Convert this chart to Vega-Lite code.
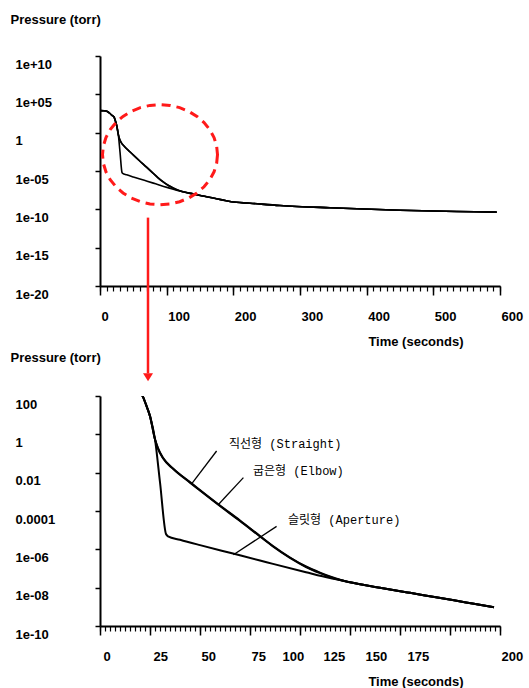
{
  "$schema": "https://vega.github.io/schema/vega-lite/v6.json",
  "padding": {"left": 10, "top": 13, "right": 5, "bottom": 0},
  "bounds": "flush",
  "spacing": 110,
  "config": {
    "view": {"stroke": null},
    "axis": {
      "grid": false,
      "domainColor": "black",
      "domainWidth": 2,
      "tickColor": "black",
      "tickWidth": 1.5,
      "labelFont": "Liberation Sans",
      "labelFontWeight": "bold",
      "labelFontSize": 13,
      "labelColor": "black",
      "titleFont": "Liberation Sans",
      "titleFontWeight": "bold",
      "titleFontSize": 13,
      "titleColor": "black"
    }
  },
  "datasets": {
    "curves": [
      {"s": "Straight", "t": 0, "p": 760}, {"s": "Straight", "t": 6, "p": 708}, {"s": "Straight", "t": 11, "p": 562}, {"s": "Straight", "t": 15, "p": 316}, {"s": "Straight", "t": 18, "p": 178}, {"s": "Straight", "t": 21, "p": 112}, {"s": "Straight", "t": 23, "p": 35.5}, {"s": "Straight", "t": 25, "p": 8.9}, {"s": "Straight", "t": 27.5, "p": 0.55},
      {"s": "Straight", "t": 29, "p": 0.178}, {"s": "Straight", "t": 31.5, "p": 0.0562}, {"s": "Straight", "t": 36.5, "p": 0.01585}, {"s": "Straight", "t": 45, "p": 0.00302}, {"s": "Straight", "t": 50, "p": 0.001175}, {"s": "Straight", "t": 59, "p": 2.19e-4}, {"s": "Straight", "t": 70, "p": 3.02e-5}, {"s": "Straight", "t": 80, "p": 4.68e-6}, {"s": "Straight", "t": 86.5, "p": 1.41e-6}, {"s": "Straight", "t": 95, "p": 3.55e-7}, {"s": "Straight", "t": 103, "p": 1.2e-7}, {"s": "Straight", "t": 110, "p": 5.75e-8}, {"s": "Straight", "t": 115, "p": 3.63e-8}, {"s": "Straight", "t": 120, "p": 2.51e-8},
      {"s": "Straight", "t": 125, "p": 1.91e-8}, {"s": "Straight", "t": 140, "p": 1e-8}, {"s": "Straight", "t": 155, "p": 5.37e-9}, {"s": "Straight", "t": 168, "p": 3.16e-9}, {"s": "Straight", "t": 183, "p": 1.7e-9}, {"s": "Straight", "t": 197, "p": 9.55e-10}, {"s": "Straight", "t": 225, "p": 6.31e-10}, {"s": "Straight", "t": 270, "p": 3.16e-10}, {"s": "Straight", "t": 345, "p": 1.585e-10}, {"s": "Straight", "t": 375, "p": 1.26e-10}, {"s": "Straight", "t": 450, "p": 7.59e-11}, {"s": "Straight", "t": 535, "p": 5.25e-11}, {"s": "Straight", "t": 595, "p": 4.37e-11},
      {"s": "Elbow", "t": 0, "p": 760}, {"s": "Elbow", "t": 6, "p": 708}, {"s": "Elbow", "t": 11, "p": 562}, {"s": "Elbow", "t": 15, "p": 316}, {"s": "Elbow", "t": 18, "p": 178}, {"s": "Elbow", "t": 21, "p": 112}, {"s": "Elbow", "t": 23, "p": 35.5}, {"s": "Elbow", "t": 25, "p": 8.9}, {"s": "Elbow", "t": 27.5, "p": 0.55},
      {"s": "Elbow", "t": 29, "p": 0.189}, {"s": "Elbow", "t": 31.5, "p": 0.0596}, {"s": "Elbow", "t": 36.5, "p": 0.0168}, {"s": "Elbow", "t": 45, "p": 0.0032}, {"s": "Elbow", "t": 50, "p": 0.001245}, {"s": "Elbow", "t": 59, "p": 2.32e-4}, {"s": "Elbow", "t": 70, "p": 3.2e-5}, {"s": "Elbow", "t": 80, "p": 4.96e-6}, {"s": "Elbow", "t": 86.5, "p": 1.49e-6}, {"s": "Elbow", "t": 95, "p": 3.76e-7}, {"s": "Elbow", "t": 103, "p": 1.27e-7}, {"s": "Elbow", "t": 110, "p": 6.1e-8}, {"s": "Elbow", "t": 115, "p": 3.85e-8}, {"s": "Elbow", "t": 120, "p": 2.6e-8},
      {"s": "Elbow", "t": 125, "p": 1.91e-8}, {"s": "Elbow", "t": 140, "p": 1e-8}, {"s": "Elbow", "t": 155, "p": 5.37e-9}, {"s": "Elbow", "t": 168, "p": 3.16e-9}, {"s": "Elbow", "t": 183, "p": 1.7e-9}, {"s": "Elbow", "t": 197, "p": 9.55e-10}, {"s": "Elbow", "t": 225, "p": 6.31e-10}, {"s": "Elbow", "t": 270, "p": 3.16e-10}, {"s": "Elbow", "t": 345, "p": 1.585e-10}, {"s": "Elbow", "t": 375, "p": 1.26e-10}, {"s": "Elbow", "t": 450, "p": 7.59e-11}, {"s": "Elbow", "t": 535, "p": 5.25e-11}, {"s": "Elbow", "t": 595, "p": 4.37e-11},
      {"s": "Aperture", "t": 0, "p": 760}, {"s": "Aperture", "t": 6, "p": 708}, {"s": "Aperture", "t": 11, "p": 562}, {"s": "Aperture", "t": 15, "p": 316}, {"s": "Aperture", "t": 18, "p": 178}, {"s": "Aperture", "t": 21, "p": 112}, {"s": "Aperture", "t": 23, "p": 35.5}, {"s": "Aperture", "t": 25, "p": 8.9}, {"s": "Aperture", "t": 27.5, "p": 0.55},
      {"s": "Aperture", "t": 30, "p": 3.16e-3}, {"s": "Aperture", "t": 33, "p": 6.31e-6}, {"s": "Aperture", "t": 34, "p": 4.79e-6}, {"s": "Aperture", "t": 40, "p": 3.16e-6}, {"s": "Aperture", "t": 50, "p": 1.66e-6}, {"s": "Aperture", "t": 66.5, "p": 6.03e-7}, {"s": "Aperture", "t": 80, "p": 2.63e-7}, {"s": "Aperture", "t": 86.5, "p": 1.74e-7}, {"s": "Aperture", "t": 103, "p": 6.31e-8}, {"s": "Aperture", "t": 115, "p": 3.16e-8}, {"s": "Aperture", "t": 120, "p": 2.51e-8},
      {"s": "Aperture", "t": 125, "p": 1.91e-8}, {"s": "Aperture", "t": 140, "p": 1e-8}, {"s": "Aperture", "t": 155, "p": 5.37e-9}, {"s": "Aperture", "t": 168, "p": 3.16e-9}, {"s": "Aperture", "t": 183, "p": 1.7e-9}, {"s": "Aperture", "t": 197, "p": 9.55e-10}, {"s": "Aperture", "t": 225, "p": 6.31e-10}, {"s": "Aperture", "t": 270, "p": 3.16e-10}, {"s": "Aperture", "t": 345, "p": 1.585e-10}, {"s": "Aperture", "t": 375, "p": 1.26e-10}, {"s": "Aperture", "t": 450, "p": 7.59e-11}, {"s": "Aperture", "t": 535, "p": 5.25e-11}, {"s": "Aperture", "t": 595, "p": 4.37e-11}
    ]
  },
  "vconcat": [
    {
      "width": 400,
      "height": 230,
      "resolve": {"axis": {"x": "independent", "y": "independent"}},
      "layer": [
        {
          "data": {"name": "curves"},
          "mark": {"type": "line", "color": "black", "strokeWidth": 1.6, "interpolate": "monotone"},
          "encoding": {
            "x": {
              "field": "t", "type": "quantitative", "scale": {"domain": [0, 600]},
              "axis": {"values": [0, 100, 200, 300, 400, 500, 600], "tickSize": 9, "labelAlign": "left", "labelOffset": 1, "labelBaseline": "middle", "labelPadding": 21, "labelFlush": false, "labelOverlap": false, "title": "Time (seconds)", "titleAlign": "right", "titleX": 363, "titleY": 55, "titleBaseline": "middle"}
            },
            "y": {
              "field": "p", "type": "quantitative", "scale": {"type": "log", "domain": [1e-20, 1e10]},
              "axis": {"orient": "left", "values": [1e-20, 1e-15, 1e-10, 1e-5, 1, 1e5, 1e10], "labelExpr": "['1e-20','1e-15','1e-10','1e-05','1','1e+05','1e+10'][round(log(datum.value)/LN10/5)+4]", "tickSize": 5, "labelAlign": "left", "labelPadding": 80, "labelOffset": 8, "labelOverlap": false, "title": "Pressure (torr)", "titleAngle": 0, "titleAlign": "left", "titleBaseline": "middle", "titleX": -90, "titleY": -37}
            },
            "detail": {"field": "s"}
          }
        },
        {
          "data": {"values": [{"t": 90, "p": 0.00135}]},
          "mark": {"type": "point", "shape": "M1,0L0.985,0.151L0.94,0.298L0.866,0.435L0.766,0.559L0.643,0.666L0.5,0.753L0.342,0.818L0.174,0.857L0,0.87L-0.174,0.857L-0.342,0.818L-0.5,0.753L-0.643,0.666L-0.766,0.559L-0.866,0.435L-0.94,0.298L-0.985,0.151L-1,0L-0.985,-0.151L-0.94,-0.298L-0.866,-0.435L-0.766,-0.559L-0.643,-0.666L-0.5,-0.753L-0.342,-0.818L-0.174,-0.857L0,-0.87L0.174,-0.857L0.342,-0.818L0.5,-0.753L0.643,-0.666L0.766,-0.559L0.866,-0.435L0.94,-0.298L0.985,-0.151Z", "size": 13225, "filled": false, "stroke": "#ff1a1a", "strokeWidth": 3, "strokeDash": [9, 6], "opacity": 1},
          "encoding": {
            "x": {
              "field": "t", "type": "quantitative", "scale": {"domain": [0, 600]},
              "axis": {"orient": "bottom", "values": [0,10,20,30,40,50,60,70,80,90,100,110,120,130,140,150,160,170,180,190,200,210,220,230,240,250,260,270,280,290,300,310,320,330,340,350,360,370,380,390,400,410,420,430,440,450,460,470,480,490,500,510,520,530,540,550,560,570,580,590,600], "labels": false, "domain": false, "tickSize": 5, "tickWidth": 1.2, "title": null}
            },
            "y": {"field": "p", "type": "quantitative", "scale": {"type": "log", "domain": [1e-20, 1e10]}, "axis": null}
          }
        },
        {
          "data": {"values": [{"t": 72, "p": 8.3e-12, "p2": 4e-32}]},
          "mark": {"type": "rule", "color": "#ff1a1a", "strokeWidth": 2.5},
          "encoding": {
            "x": {"field": "t", "type": "quantitative", "scale": {"domain": [0, 600]}, "axis": null},
            "y": {"field": "p", "type": "quantitative", "scale": {"type": "log", "domain": [1e-20, 1e10]}, "axis": null},
            "y2": {"field": "p2"}
          }
        },
        {
          "data": {"values": [{"t": 72, "p": 1.26e-32}]},
          "mark": {"type": "point", "shape": "M-1,-0.8L1,-0.8L0,0.8Z", "size": 100, "filled": true, "color": "#ff1a1a", "opacity": 1},
          "encoding": {
            "x": {"field": "t", "type": "quantitative", "scale": {"domain": [0, 600]}, "axis": null},
            "y": {"field": "p", "type": "quantitative", "scale": {"type": "log", "domain": [1e-20, 1e10]}, "axis": null}
          }
        }
      ]
    },
    {
      "width": 400,
      "height": 230,
      "resolve": {"axis": {"x": "independent", "y": "independent"}},
      "layer": [
        {
          "data": {"name": "curves"},
          "transform": [{"filter": {"field": "t", "lte": 198}}],
          "mark": {"type": "line", "color": "black", "strokeWidth": 2, "interpolate": "monotone", "clip": true},
          "encoding": {
            "x": {
              "field": "t", "type": "quantitative", "scale": {"domain": [0, 200]},
              "axis": {"values": [0, 25, 50, 75, 100, 125, 150, 175, 200], "tickSize": 9, "labelAlign": "left", "labelBaseline": "middle", "labelPadding": 21, "labelFlush": false, "labelOverlap": false, "title": "Time (seconds)", "titleAlign": "right", "titleX": 363, "titleY": 55, "titleBaseline": "middle",
                "encoding": {"labels": {"dx": {"value": {"expr": "datum.value==100?-18:datum.value==125?-27:datum.value==150?-35:datum.value==175?-43:datum.value<=25?3:1"}}}}}
            },
            "y": {
              "field": "p", "type": "quantitative", "scale": {"type": "log", "domain": [1e-10, 100]},
              "axis": {"orient": "left", "values": [1e-10, 1e-8, 1e-6, 1e-4, 0.01, 1, 100], "labelExpr": "['1e-10','1e-08','1e-06','0.0001','0.01','1','100'][round(log(datum.value)/LN10/2)+5]", "tickSize": 5, "labelAlign": "left", "labelPadding": 80, "labelOffset": 8, "labelOverlap": false, "title": "Pressure (torr)", "titleAngle": 0, "titleAlign": "left", "titleBaseline": "middle", "titleX": -90, "titleY": -39}
            },
            "detail": {"field": "s"}
          }
        },
        {
          "data": {"values": [
            {"t": 46, "p": 2.75e-3, "t2": 58.3, "p2": 0.135},
            {"t": 59.2, "p": 2.19e-4, "t2": 71.7, "p2": 5.5e-3},
            {"t": 66.7, "p": 5.25e-7, "t2": 88.3, "p2": 1.58e-5}
          ]},
          "mark": {"type": "rule", "color": "black", "strokeWidth": 1.3},
          "encoding": {
            "x": {
              "field": "t", "type": "quantitative", "scale": {"domain": [0, 200]},
              "axis": {"orient": "bottom", "values": [0,2.5,5,7.5,10,12.5,15,17.5,20,22.5,25,27.5,30,32.5,35,37.5,40,42.5,45,47.5,50,52.5,55,57.5,60,62.5,65,67.5,70,72.5,75,77.5,80,82.5,85,87.5,90,92.5,95,97.5,100,102.5,105,107.5,110,112.5,115,117.5,120,122.5,125,127.5,130,132.5,135,137.5,140,142.5,145,147.5,150,152.5,155,157.5,160,162.5,165,167.5,170,172.5,175,177.5,180,182.5,185,187.5,190,192.5,195,197.5,200], "labels": false, "domain": false, "tickSize": 5, "tickWidth": 1.2, "title": null}
            },
            "y": {"field": "p", "type": "quantitative", "scale": {"type": "log", "domain": [1e-10, 100]}, "axis": null},
            "x2": {"field": "t2"},
            "y2": {"field": "p2"}
          }
        },
        {
          "data": {"values": [
            {"t": 64.5, "p": 0.302, "label": "직선형 (Straight)"},
            {"t": 76.5, "p": 0.01175, "label": "굽은형 (Elbow)"},
            {"t": 94, "p": 3.55e-5, "label": "슬릿형 (Aperture)"}
          ]},
          "mark": {"type": "text", "align": "left", "baseline": "middle", "font": "Liberation Mono, Noto Sans CJK KR", "fontSize": 12, "color": "black"},
          "encoding": {
            "x": {"field": "t", "type": "quantitative", "scale": {"domain": [0, 200]}, "axis": null},
            "y": {"field": "p", "type": "quantitative", "scale": {"type": "log", "domain": [1e-10, 100]}, "axis": null},
            "text": {"field": "label"}
          }
        }
      ]
    }
  ]
}
